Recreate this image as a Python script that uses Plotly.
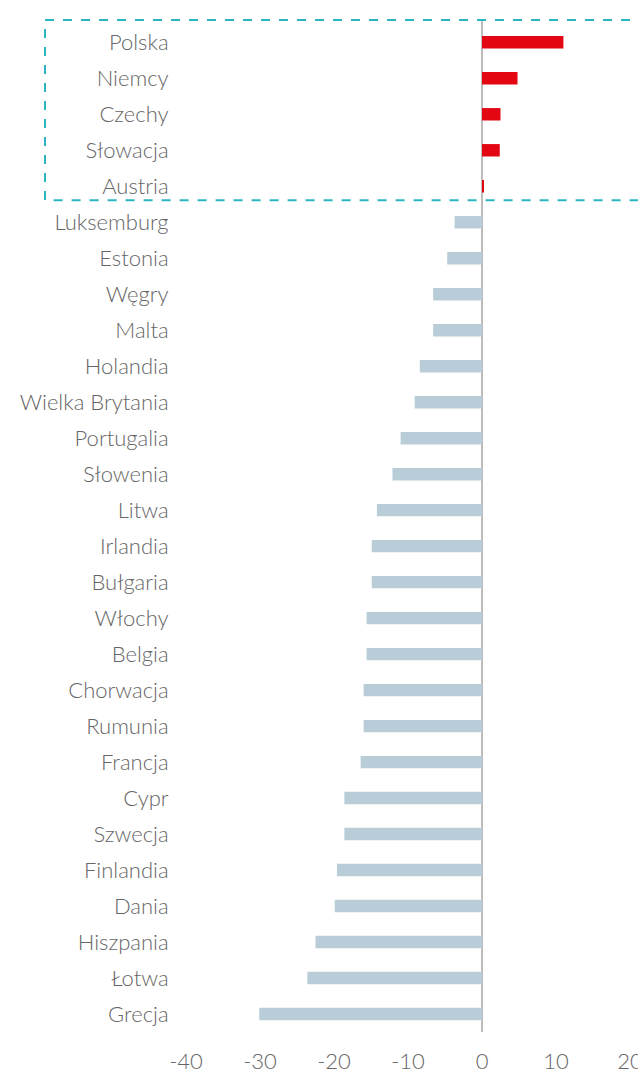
import plotly.graph_objects as go

countries = ["Polska", "Niemcy", "Czechy", "Słowacja", "Austria", "Luksemburg", "Estonia",
             "Węgry", "Malta", "Holandia", "Wielka Brytania", "Portugalia", "Słowenia", "Litwa",
             "Irlandia", "Bułgaria", "Włochy", "Belgia", "Chorwacja", "Rumunia", "Francja",
             "Cypr", "Szwecja", "Finlandia", "Dania", "Hiszpania", "Łotwa", "Grecja"]
values = [11.0, 4.8, 2.5, 2.4, 0.2, -3.7, -4.7,
          -6.6, -6.6, -8.4, -9.1, -11.0, -12.1, -14.2,
          -14.9, -14.9, -15.6, -15.6, -16.0, -16.0, -16.4,
          -18.6, -18.6, -19.6, -19.9, -22.5, -23.6, -30.1]
tick_vals = [-40, -30, -20, -10, 0, 10, 20]
tick_text = ["-40", "-30", "-20", "-10", "0", "10", "20"]

RED = "#E30613"
BLUE = "#B9CDD8"
colors = [RED if v > 0 else BLUE for v in values]

fig = go.Figure(go.Bar(
    x=values, y=countries, orientation="h",
    marker=dict(color=colors, line=dict(width=0)),
    width=0.345,
))

font = dict(family="Lato, 'Open Sans', sans-serif", size=22, color="#666666", weight=300)

fig.update_layout(
    width=638, height=1073,
    margin=dict(l=186, r=8, t=19, b=41),
    paper_bgcolor="white", plot_bgcolor="white",
    showlegend=False,
    xaxis=dict(range=[-40, 20], tickvals=tick_vals, ticktext=tick_text, showgrid=False,
               zeroline=True, zerolinecolor="#BDBDBD", zerolinewidth=2,
               showline=False, ticks="outside", ticklen=10, tickcolor="rgba(0,0,0,0)",
               tickfont=font, ticklabeloverflow="allow", automargin=False),
    yaxis=dict(categoryorder="array", categoryarray=countries, autorange="reversed",
               showgrid=False, zeroline=False, showline=False, automargin=False,
               ticks="outside", ticklen=12, tickcolor="rgba(0,0,0,0)", tickfont=font),
    shapes=[dict(type="rect", xref="paper", yref="y",
                 x0=-0.3176, x1=1.06, y0=-0.62, y1=4.39,
                 line=dict(color="#2BB5C0", width=2, dash="dash"),
                 fillcolor="rgba(0,0,0,0)", layer="above")],
)

fig.write_html("out.html", config={"displayModeBar": False},
               post_script="document.body.style.margin='0';document.body.style.overflow='hidden';")
